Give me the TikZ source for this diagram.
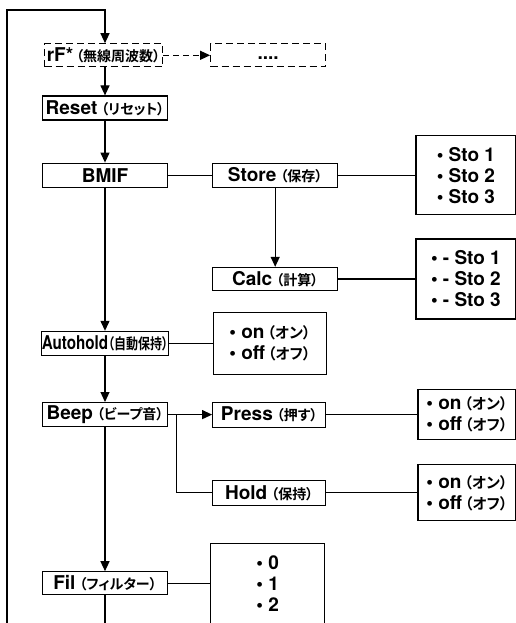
\documentclass[tikz,border=0pt]{standalone}
\usepackage{fontspec}
\usepackage{graphicx}
\setmainfont{TeX Gyre Heros}
\newfontfamily\jp{Noto Sans CJK JP}[BoldFont={Noto Sans CJK JP Bold},RawFeature=+palt]
\usetikzlibrary{arrows.meta}
\usetikzlibrary{positioning}
\newcommand{\jpn}[1]{\hspace{4pt}{\fontsize{14}{16}\jp\bfseries #1}}
\newcommand{\jpopt}[1]{\hspace{3pt}{\fontsize{15}{17}\jp\bfseries #1}}

\begin{document}
\begin{tikzpicture}
    [x=1pt,y=1pt,
mainbox/.style={draw, line width=1.2pt, minimum width=125pt, minimum height=24pt, inner sep=0pt, font=\bfseries\fontsize{19}{22}\selectfont},
dashbox/.style={mainbox, dash pattern=on 7pt off 4pt},
sidebox/.style={mainbox, minimum width=113pt, minimum height=25pt},
optbox/.style={draw, line width=1.2pt, inner sep=0pt, align=left, font=\bfseries\fontsize{19}{21}\selectfont},
conn/.style={line width=1.2pt},
arr/.style={conn, -{Triangle[length=10pt,width=9pt]}}
]
\useasboundingbox (0,0) rectangle (515,-623);
\node[mainbox](reset) at (105,-108){Reset\jpn{（リセット）}};
\node[dashbox, minimum width=118pt, minimum height=23pt](rf)[above=28pt of reset,xshift=-1.5pt]{rF*\hspace{-1pt}\jpn{（無線周波数）}};
\node[dashbox, minimum width=115pt, minimum height=23pt](more)[right=47pt of rf]{\strut....};
\node[mainbox](bmif)[below=42pt of reset]{BMIF};
\node[mainbox](store)[right=44pt of bmif]{Store\jpn{（保存）}};
\node[optbox, minimum width=100pt, minimum height=79pt](sto)[right=77pt of store]{\textbullet\ Sto 1\\ \textbullet\ Sto 2\\ \textbullet\ Sto 3};
\node[mainbox, minimum height=23pt](calc)[below=79pt of store]{Calc\jpn{（計算）}};
\node[optbox, minimum width=100pt, minimum height=80pt](calcsto)[right=77pt of calc]{\textbullet\ - Sto 1\\ \textbullet\ - Sto 2\\ \textbullet\ - Sto 3};
\node[mainbox](autohold)[below=143pt of bmif]{\scalebox{0.8}[1]{Autohold{\fontsize{15}{16}\jp\bfseries （自動保持）}}};
\node[optbox, minimum width=113pt, minimum height=62pt](ahopt)[right=44pt of autohold]{\textbullet\ on\jpopt{（オン）}\\ \textbullet\ off\jpopt{（オフ）}};
\node[mainbox](beep)[below=46pt of autohold]{Beep\jpn{（ビープ音）}};
\node[sidebox](press)[right=44pt of beep]{Press\jpn{（押す）}};
\node[optbox, minimum width=98pt, minimum height=50pt](pressopt)[right=91pt of press]{\textbullet\ on\jpopt{（オン）}\\ \textbullet\ off\jpopt{（オフ）}};
\node[sidebox](hold)[below=52pt of press]{Hold\jpn{（保持）}};
\node[optbox, minimum width=98pt, minimum height=56pt](holdopt)[right=91pt of hold]{\textbullet\ on\jpopt{（オン）}\\ \textbullet\ off\jpopt{（オフ）}};
\node[mainbox, minimum height=23pt](fil)[below=144pt of beep]{Fil\jpn{（フィルター）}};
\node[optbox, minimum width=114pt, minimum height=80pt](filopt)[right=42pt of fil]{\textbullet\ 0\\ \textbullet\ 1\\ \textbullet\ 2};

\coordinate (loopbl) at (7,-623);
\coordinate (looptl) at (7,-10);
\coordinate (filend) at (105,-623);

\draw[arr] (loopbl) -- (looptl) -| (reset |- rf.north);
\draw[arr, dash pattern=on 6pt off 4pt] (rf) -- (more);
\draw[arr] (reset |- rf.south) -- (reset);
\draw[arr] (reset) -- (bmif);
\draw[conn] (bmif) -- (store);
\draw[conn] (store) -- (sto);
\draw[arr] (store) -- (calc);
\draw[conn] (calc.east) -- (calc.east -| calcsto.west);
\draw[arr] (bmif) -- (autohold);
\draw[conn] (autohold) -- (ahopt);
\draw[arr] (autohold) -- (beep);
\draw[arr] (beep) -- (press);
\draw[conn] ([xshift=8pt]beep.east) |- (hold.west);
\draw[conn] (press) -- (pressopt);
\draw[conn] (hold) -- (holdopt);
\draw[arr] (beep) -- (fil);
\draw[conn] (fil) -- (filopt);
\draw[conn] (fil) -- (filend);
\end{tikzpicture}
\end{document}
